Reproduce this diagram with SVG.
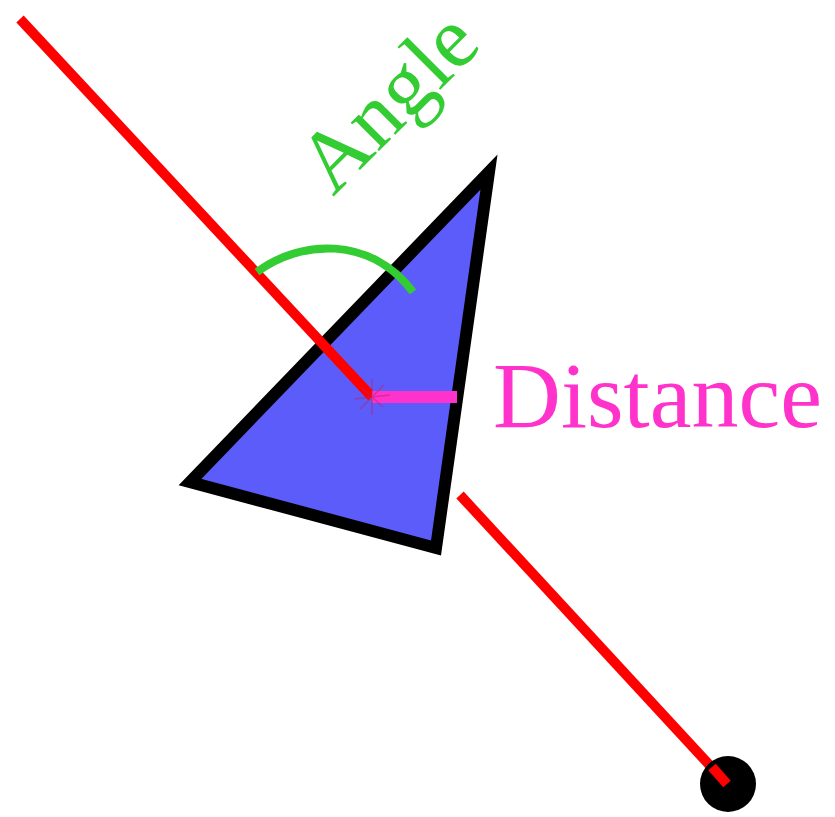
<svg xmlns="http://www.w3.org/2000/svg" width="835" height="817" viewBox="0 0 835 817">
  <style>
    .ray { stroke: #ff0000; stroke-width: 10; fill: none; }
    .label { font-family: "Liberation Serif", "Times New Roman", serif; }
  </style>
  <rect width="835" height="817" fill="#ffffff"/>
  <g id="triangle">
    <polygon points="489,172 190,482 436,548" fill="#5c5cfa" stroke="#000000" stroke-width="12" stroke-linejoin="miter"/>
  </g>
  <g id="connectors">
    <line class="ray" x1="20" y1="19" x2="372" y2="397"/>
    <line class="ray" x1="460" y1="495" x2="727" y2="784"/>
    <path d="M257,272 C300,240 370,235 413,292" fill="none" stroke="#33cc33" stroke-width="8"/>
    <line x1="372" y1="397" x2="457" y2="397" stroke="#ff33cc" stroke-width="12"/>
  </g>
  <g id="center-star" stroke="#c02060" stroke-width="1.5" opacity="0.5">
    <line x1="354" y1="399" x2="390" y2="395"/>
    <line x1="372" y1="379" x2="372" y2="415"/>
    <line x1="360" y1="409" x2="384" y2="385"/>
    <line x1="361" y1="387" x2="383" y2="407"/>
  </g>
  <g id="endpoint">
    <circle cx="728" cy="784" r="28" fill="#000000"/>
    <line x1="712" y1="767" x2="727" y2="784" stroke="#ff0000" stroke-width="10"/>
  </g>
  <g id="angle-label">
    <text class="label" font-family="'Liberation Serif', serif" x="0" y="0" font-size="87" fill="#33cc33" transform="translate(333,197) rotate(-45)">Angle</text>
  </g>
  <g id="distance-label">
    <text class="label" font-family="'Liberation Serif', serif" x="493" y="427" font-size="94" fill="#ff33cc">Distance</text>
  </g>
</svg>
